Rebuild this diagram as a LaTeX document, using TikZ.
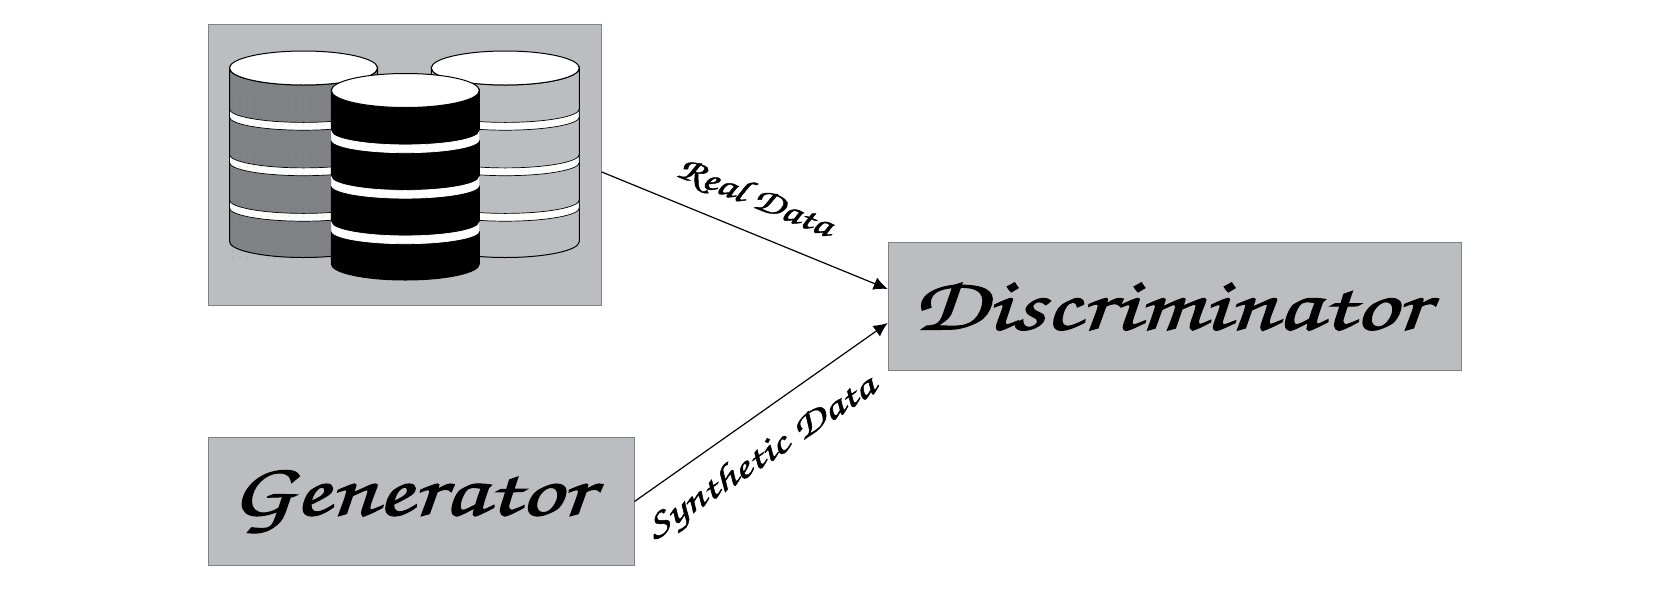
\documentclass[tikz,border=0pt]{standalone}
\usetikzlibrary{arrows.meta}
\definecolor{boxgray}{HTML}{BCBDC0}
\definecolor{edgegray}{HTML}{808285}
\definecolor{darkdisk}{HTML}{808285}
\newcommand{\handfont}[1]{\fontencoding{T1}\fontfamily{pzc}\fontseries{mb}\fontshape{it}\fontsize{#1}{#1}\selectfont}
% stroke width, horizontal stretch, text
\newcommand{\inked}[3]{\scalebox{#2}[1]{\special{pdf:code 2 Tr #1 w}#3\special{pdf:code 0 Tr 1 w}}}
% cx, top y, body colour, band line colour
\newcommand{\dbstack}[4]{%
  \pgfmathsetmacro{\lx}{#1-74}\pgfmathsetmacro{\rx}{#1+74}
  \pgfmathsetmacro{\by}{#2+173.5}
  \filldraw[draw=black,fill=#3,line width=1pt]
    (\lx,#2) -- (\lx,\by) arc[start angle=180,end angle=0,x radius=74,y radius=16]
    -- (\rx,#2) arc[start angle=0,end angle=180,x radius=74,y radius=17] -- cycle;
  \foreach \k in {0,1,2}{
    \pgfmathsetmacro{\ty}{#2+41+45.5*\k}
    \pgfmathsetmacro{\uy}{\ty+8}
    \filldraw[draw=#4,fill=white,line width=0.7pt]
      (\lx,\ty) arc[start angle=180,end angle=0,x radius=74,y radius=13.4]
      -- (\rx,\uy) arc[start angle=0,end angle=180,x radius=74,y radius=13.2] -- cycle;
  }
  \filldraw[draw=black,fill=white,line width=1pt] (#1,#2) ellipse[x radius=74,y radius=17];
}
\tikzset{
  panel/.style={draw=edgegray,fill=boxgray,line width=1pt,inner sep=0pt,text=black},
  flow/.style={draw=black,line width=1.2pt,-{Latex[length=14pt,width=13pt]}},
  flowlabel/.style={inner sep=0pt,text=black},
}
\begin{document}
\begin{tikzpicture}[x=1pt,y=-1pt]
\useasboundingbox (0,0) rectangle (1665,595);
\node[panel,minimum width=393pt,minimum height=281pt] (real) at (404.5,165) {};
\dbstack{303.5}{68}{darkdisk}{black}
\begin{scope}
  \clip (229,85) rectangle (331,258);
  \foreach \i in {0,...,14}{
    \foreach \j in {0,...,24}{
      \fill[edgegray!70!black] ({233+7*\i},{90+7*\j}) circle[radius=0.45];
    }
  }
\end{scope}
\dbstack{505.3}{68}{boxgray}{black}
\dbstack{405.3}{90.5}{black}{white}
\node[panel,minimum width=426pt,minimum height=128pt] (gen) at (421,501.5) {};
\node[font=\handfont{76},inner sep=0pt] (gentext) at (411,501) {\inked{1.0}{1.36}{Generator}};
\node[panel,minimum width=573pt,minimum height=128pt] (disc) at (1174.5,306) {};
\node[font=\handfont{76},inner sep=0pt] (disctext) at (1170,305) {\inked{1.0}{1.38}{Discriminator}};
\coordinate (realin) at (887.7,289);
\coordinate (genin) at (887.7,323);
\draw[flow] (real.-2) -- (realin);
\draw[flow] (gen.east) -- (genin);
\node[flowlabel,rotate=-22,font=\handfont{35}] (reallabel) at (755,198) {\inked{0.4}{1.27}{Real Data}};
\node[flowlabel,rotate=33.5,font=\handfont{35}] (synlabel) at (762,459) {\inked{0.4}{1.42}{Synthetic Data}};
\end{tikzpicture}
\end{document}
